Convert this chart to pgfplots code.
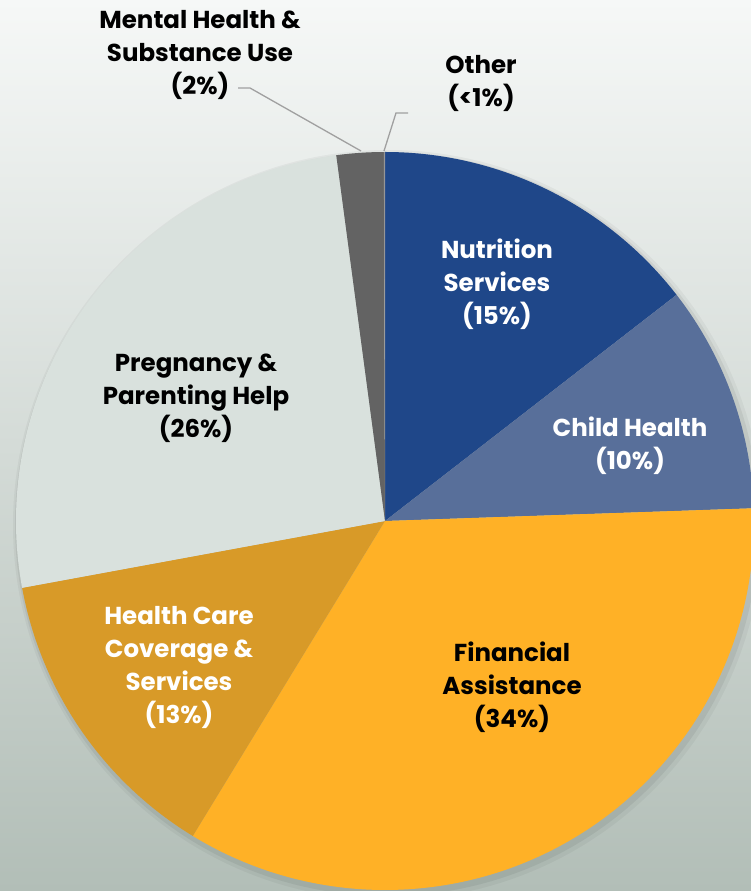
\documentclass[border=0pt]{standalone}
\usepackage{pgfplots}
\pgfplotsset{compat=1.18}
\usepackage{fontspec}
\setmainfont{Poppins}
\definecolor{cNut}{RGB}{31,71,137}
\definecolor{cChild}{RGB}{88,111,154}
\definecolor{cFin}{RGB}{255,177,38}
\definecolor{cHC}{RGB}{216,154,40}
\definecolor{cPreg}{RGB}{217,225,221}
\definecolor{cMen}{RGB}{99,99,99}
\definecolor{cOth}{RGB}{150,150,150}
\definecolor{bgtop}{RGB}{246,248,247}
\definecolor{bgmid}{RGB}{226,232,228}
\definecolor{bgbot}{RGB}{178,190,183}
\definecolor{lead}{RGB}{160,160,160}
\begin{document}
\begin{tikzpicture}
\begin{axis}[scale only axis, width=751pt, height=891pt,
  xmin=0, xmax=751, ymin=0, ymax=891,
  axis lines=none, ticks=none, clip=true,
  axis background/.style={top color=bgtop, middle color=bgmid, bottom color=bgbot}]
% soft shadow
\fill[black, opacity=0.04] (axis cs:388,366) circle[radius=375pt];
\fill[black, opacity=0.06] (axis cs:387,367) circle[radius=372pt];
% wedges: share in percent, clockwise from 12 o'clock
\foreach \val/\col [remember=\ea as \sa (initially 90), evaluate=\val as \ea using \sa-3.6*\val] in
  {14.5/cNut, 9.95/cChild, 34.27/cFin, 13.38/cHC, 25.79/cPreg, 2.06/cMen, 0.05/cOth}{
  \edef\tmp{\noexpand\fill[\col] (axis cs:385,370) -- ++(\sa:369pt) arc[start angle=\sa, end angle=\ea, radius=369pt] -- cycle;}
  \tmp
}
% leader lines
\draw[lead, line width=1.3pt] (axis cs:238,803) -- (axis cs:250,803) -- (axis cs:361,740);
\draw[lead, line width=1.3pt] (axis cs:408,778) -- (axis cs:396,778) -- (axis cs:384,740);
% labels
\tikzset{lbl/.style={align=center, font=\bfseries\fontsize{24.5}{33}\selectfont}}
\node[lbl, black] at (axis cs:200,836) {Mental Health \&\\Substance Use\\(2\%)};
\node[lbl, black] at (axis cs:481,807) {Other\\(<1\%)};
\node[lbl, white] at (axis cs:497,607) {Nutrition\\Services\\(15\%)};
\node[lbl, white] at (axis cs:630,445) {Child Health\\(10\%)};
\node[lbl, black] at (axis cs:512,204) {Financial\\Assistance\\(34\%)};
\node[lbl, white] at (axis cs:179,224) {Health Care\\Coverage \&\\Services\\(13\%)};
\node[lbl, black] at (axis cs:196,493) {Pregnancy \&\\Parenting Help\\(26\%)};
\end{axis}
\end{tikzpicture}
\end{document}
